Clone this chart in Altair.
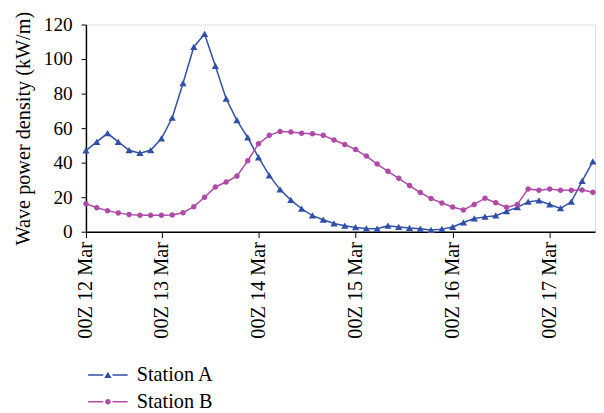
import altair as alt
import pandas as pd

# 3-hourly samples (index 0..47)
station_a = [47, 52, 57, 52, 47.2, 45.5, 47.2, 54, 66, 86, 107, 114.5, 96, 77, 64.5, 54.5,
             43, 32.6, 24.4, 18.3, 13.3, 9.3, 6.9, 4.8, 3.4, 2.5, 1.9, 1.7, 3.4, 2.7, 2.1, 1.7,
             1.0, 1.5, 2.7, 5.3, 7.6, 8.6, 9.3, 11.8, 14.1, 17.3, 18.1, 15.8, 13.5, 17.3, 29.3, 40.6]
station_b = [16.2, 13.9, 12.2, 10.9, 9.9, 9.5, 9.5, 9.5, 9.7, 11.0, 14.5, 20, 25.9, 28.8, 32.2, 41.1,
             51, 55.8, 58.1, 57.7, 57, 56.8, 55.8, 53.1, 50.5, 47.6, 43.8, 39.2, 35, 30.9, 26.7, 22.7,
             19.2, 16.6, 14.3, 12.6, 15.8, 19.4, 16.8, 14.1, 15.8, 24.8, 24, 24.8, 24, 24, 24.2, 22.9]
series_names = ["Station A", "Station B"]
series_colors = ["#2f4fa8", "#b04aa8"]
tick_positions = [0, 7, 16, 25, 34, 43]
tick_labels = ["00Z 12 Mar", "00Z 13 Mar", "00Z 14 Mar", "00Z 15 Mar", "00Z 16 Mar", "00Z 17 Mar"]
y_ticks = [0, 20, 40, 60, 80, 100, 120]

rows = []
for name, vals in zip(series_names, [station_a, station_b]):
    for i, v in enumerate(vals):
        rows.append({"idx": i, "value": v, "series": name})
df = pd.DataFrame(rows)

label_map = "{" + ",".join(f"'{p}':'{l}'" for p, l in zip(tick_positions, tick_labels)) + "}"

FONT = "Liberation Serif"

# marker shapes (unit = sqrt(size)/2 px)
tri_path = "M-0.55,0.45L0,-0.5L0.55,0.45Z"
circ_path = "M0.42,0A0.42,0.42 0 1,1 -0.42,0A0.42,0.42 0 1,1 0.42,0Z"
legend_line_path = "M-3,0H-0.7M0.7,0H3"
SYM = 178

x_enc = alt.X("idx:Q",
              scale=alt.Scale(domain=[0, 47.2], nice=False, zero=False),
              axis=alt.Axis(values=tick_positions, labelExpr=f"{label_map}[datum.value + '']",
                            labelAngle=-90, title=None, grid=False, labelFont=FONT,
                            labelFontSize=20.5, labelColor="black", tickColor="black",
                            tickSize=6, domainColor="black", domainWidth=1.5,
                            labelPadding=4, labelOverlap=False))
y_enc = alt.Y("value:Q",
              scale=alt.Scale(domain=[0, 120], nice=False),
              axis=alt.Axis(values=y_ticks, tickCount=7, grid=False,
                            title="Wave power density (kW/m)", titleFont=FONT,
                            titleFontSize=20.5, titleFontWeight="normal", titleColor="black",
                            labelFont=FONT, labelFontSize=19.5, labelColor="black",
                            tickColor="black", tickSize=5, domainColor="black",
                            domainWidth=1.5, labelPadding=9, titlePadding=10,
                            labelOverlap=False))

LX, LY = 12, 345

lines = alt.Chart(df).mark_line(strokeWidth=1.5).encode(
    x=x_enc, y=y_enc,
    color=alt.Color("series:N", scale=alt.Scale(domain=series_names, range=series_colors),
                    legend=alt.Legend(title=None, orient="none", legendX=LX, legendY=LY,
                                      symbolType=legend_line_path, symbolSize=SYM,
                                      symbolStrokeWidth=1.5, labelOffset=19, rowPadding=6,
                                      labelFont=FONT, labelFontSize=20.5, labelColor="black")),
)

pts = alt.Chart(df).mark_point(filled=True, opacity=1, size=SYM).encode(
    x=x_enc, y=y_enc,
    color=alt.Color("series:N", scale=alt.Scale(domain=series_names, range=series_colors),
                    legend=alt.Legend(title=None, orient="none", legendX=LX, legendY=LY,
                                      symbolSize=SYM, labelOffset=19, rowPadding=6,
                                      labelFont=FONT, labelFontSize=20.5,
                                      labelColor="transparent", symbolOpacity=1)),
    shape=alt.Shape("series:N", scale=alt.Scale(domain=series_names, range=[tri_path, circ_path]),
                    legend=alt.Legend(title=None, orient="none", legendX=LX, legendY=LY,
                                      symbolSize=SYM, labelOffset=19, rowPadding=6,
                                      labelFont=FONT, labelFontSize=20.5,
                                      labelColor="transparent", symbolOpacity=1)),
)

chart = alt.layer(lines, pts).resolve_scale(color="independent").resolve_legend(
    color="independent", shape="independent").properties(
    width=516, height=210,
    autosize=alt.AutoSizeParams(type="none"),
    padding={"left": 79, "top": 14, "right": 1, "bottom": 181},
).configure_view(stroke=None).configure(background="white", font=FONT).configure_legend(
    labelFont=FONT, labelFontSize=20.5)

chart.save("out.html", embed_options={"renderer": "svg", "actions": False})
